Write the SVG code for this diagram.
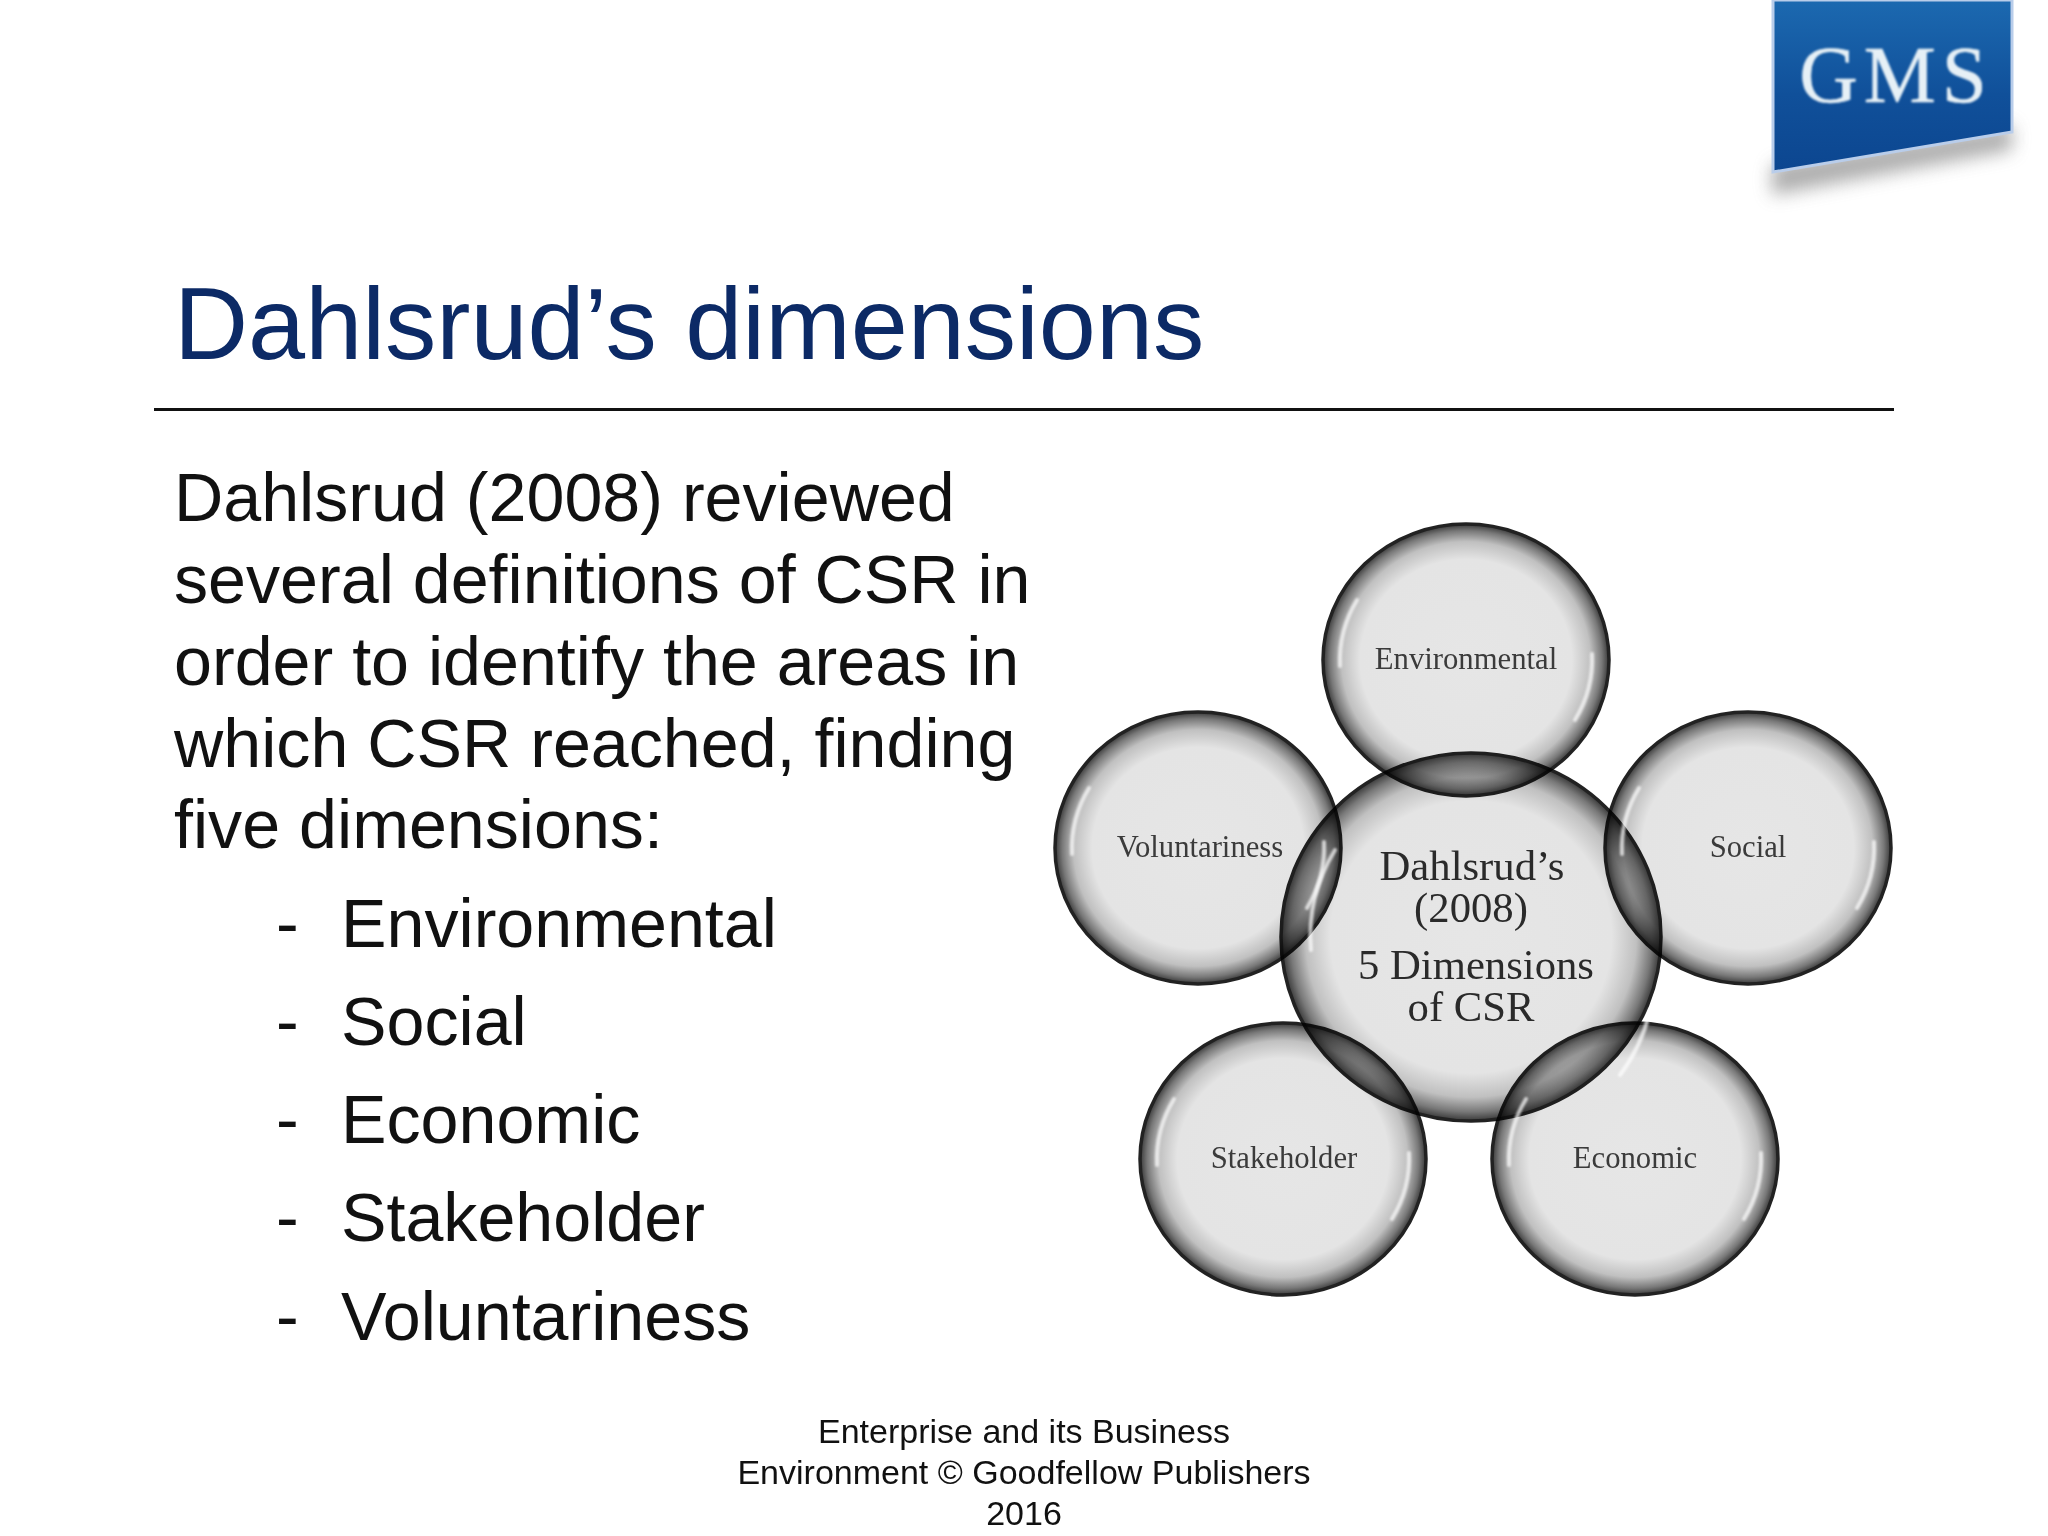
<svg xmlns="http://www.w3.org/2000/svg" width="2048" height="1536" viewBox="0 0 2048 1536">
<style>
.sans{font-family:"Liberation Sans",Arial,sans-serif}
.serif{font-family:"Liberation Serif","Times New Roman",serif}
.title{font-size:102.600px;fill:#0c2a66}
.body{font-size:68.200px;fill:#111}
.foot{font-size:34px;fill:#111;text-anchor:middle}
.bubble{fill:url(#bub);stroke:#222;stroke-width:3.500;mix-blend-mode:multiply}
.hi{fill:none;stroke:#fff;stroke-width:4;stroke-linecap:round;opacity:.7;filter:url(#soft)}
.lab{font-size:30.700px;fill:#3a3a3a;text-anchor:middle;filter:url(#soft05)}
.clab{font-size:42.700px;fill:#2b2b2b;text-anchor:middle;filter:url(#soft05)}
</style>
<defs>
<radialGradient id="bub" cx=".5" cy=".5" r=".5">
<stop offset="0" stop-color="#e6e6e6"/>
<stop offset=".74" stop-color="#e4e4e4"/>
<stop offset=".87" stop-color="#c0c0c0"/>
<stop offset=".95" stop-color="#787878"/>
<stop offset="1" stop-color="#383838"/>
</radialGradient>
<linearGradient id="logo" x1="0" y1="0" x2="0" y2="1">
<stop offset="0" stop-color="#1c69b0"/>
<stop offset=".55" stop-color="#10509a"/>
<stop offset="1" stop-color="#0c4690"/>
</linearGradient>
<filter id="blur" x="-20%" y="-60%" width="140%" height="220%"><feGaussianBlur stdDeviation="9"/></filter>
<filter id="soft" x="-30%" y="-30%" width="160%" height="160%"><feGaussianBlur stdDeviation="1"/></filter>
<filter id="soft05" x="-5%" y="-20%" width="110%" height="140%"><feGaussianBlur stdDeviation=".5"/></filter>
</defs>
<rect width="2048" height="1536" fill="#fff"/>
<g id="logo-badge">
<polygon points="1772,195 2012,150 2012,125 1772,165" fill="#777" opacity=".6" filter="url(#blur)"/>
<polygon points="1773,0 2012,0 2012,132 1773,172" fill="url(#logo)" stroke="#b9cdea" stroke-width="3"/>
<text x="1896" y="102" class="serif" font-size="81" fill="#e6f0f6" stroke="#e6f0f6" stroke-width=".6" text-anchor="middle" letter-spacing="6" filter="url(#soft)">GMS</text>
</g>
<text x="174" y="359" class="sans title">Dahlsrud’s dimensions</text>
<line x1="154" y1="409.500" x2="1894" y2="409.500" stroke="#111" stroke-width="3"/>
<g id="body-text" class="sans body">
<text x="174" y="521">Dahlsrud (2008) reviewed</text>
<text x="174" y="603">several definitions of CSR in</text>
<text x="174" y="685">order to identify the areas in</text>
<text x="174" y="767">which CSR reached, finding</text>
<text x="174" y="848">five dimensions:</text>
<text x="276" y="947">-</text><text x="341" y="947">Environmental</text>
<text x="276" y="1045">-</text><text x="341" y="1045">Social</text>
<text x="276" y="1143">-</text><text x="341" y="1143">Economic</text>
<text x="276" y="1241">-</text><text x="341" y="1241">Stakeholder</text>
<text x="276" y="1340">-</text><text x="341" y="1340">Voluntariness</text>
</g>
<g id="footer" class="sans foot">
<text x="1024" y="1443">Enterprise and its Business</text>
<text x="1024" y="1484">Environment © Goodfellow Publishers</text>
<text x="1024" y="1525">2016</text>
</g>
<g id="diagram" style="isolation:isolate">
<g id="node-center"><ellipse class="bubble" cx="1471" cy="937" rx="190" ry="184"/></g>
<g id="node-environmental"><ellipse class="bubble" cx="1466" cy="660" rx="143" ry="136"/></g>
<g id="node-social"><ellipse class="bubble" cx="1748" cy="848" rx="143" ry="136"/></g>
<g id="node-voluntariness"><ellipse class="bubble" cx="1198" cy="848" rx="143" ry="136"/></g>
<g id="node-stakeholder"><ellipse class="bubble" cx="1283" cy="1159" rx="143" ry="136"/></g>
<g id="node-economic"><ellipse class="bubble" cx="1635" cy="1159" rx="143" ry="136"/></g>
</g>
<g id="highlights">
<path class="hi" d="M1340,666 A126,120 0 0 1 1357,600"/><path class="hi" d="M1592,654 A126,120 0 0 1 1575,720"/>
<path class="hi" d="M1622,854 A126,120 0 0 1 1639,788"/><path class="hi" d="M1874,842 A126,120 0 0 1 1857,908"/>
<path class="hi" d="M1072,854 A126,120 0 0 1 1089,788"/><path class="hi" d="M1324,842 A126,120 0 0 1 1307,908"/>
<path class="hi" d="M1157,1165 A126,120 0 0 1 1174,1099"/><path class="hi" d="M1409,1153 A126,120 0 0 1 1392,1219"/>
<path class="hi" d="M1509,1165 A126,120 0 0 1 1526,1099"/><path class="hi" d="M1761,1153 A126,120 0 0 1 1744,1219"/>
<path class="hi" d="M1650,1010 A178,172 0 0 1 1620,1075"/><path class="hi" d="M1311,950 A174,168 0 0 1 1335,850"/>
</g>
<g id="labels" class="serif">
<text class="lab" x="1466" y="669">Environmental</text>
<text class="lab" x="1748" y="857">Social</text>
<text class="lab" x="1200" y="857">Voluntariness</text>
<text class="lab" x="1284" y="1168">Stakeholder</text>
<text class="lab" x="1635" y="1168">Economic</text>
<text class="clab"><tspan x="1472" y="880">Dahlsrud’s</tspan><tspan x="1471" y="922">(2008)</tspan></text>
<text class="clab"><tspan x="1476" y="979">5 Dimensions</tspan><tspan x="1471" y="1021">of CSR</tspan></text>
</g>
</svg>
